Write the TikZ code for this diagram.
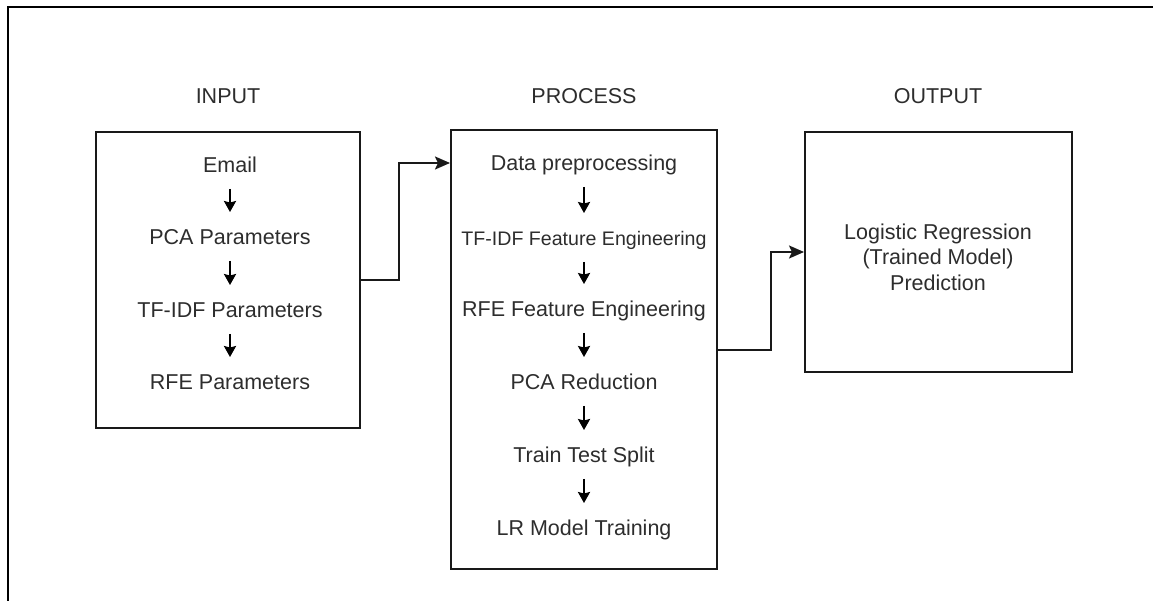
\documentclass[tikz,border=0pt]{standalone}
\usepackage{fontspec}
\setmainfont{Liberation Sans}
\usetikzlibrary{arrows.meta,calc}
\definecolor{txt}{RGB}{45,45,45}
\definecolor{ln}{RGB}{25,25,25}
\begin{document}
\begin{tikzpicture}[x=1pt,y=-1pt,
  box/.style={draw=ln,line width=2pt,inner sep=0pt},
  lbl/.style={text=txt,font=\fontsize{21.5}{25}\selectfont,inner sep=0pt,text height=15.5pt,text depth=0pt,align=center},
  smalllbl/.style={lbl,font=\fontsize{19.6}{23}\selectfont},
  stepdown/.style={draw=black,line width=2.4pt,-{Stealth[length=11pt,width=12pt,inset=1.5pt]},shorten <=16pt,shorten >=17pt},
  conn/.style={draw=ln,line width=2pt,-{Stealth[length=15pt,width=13pt,inset=3pt]}}]
\useasboundingbox (0,0) rectangle (1153,601);
% outer frame
\draw[line width=2.6pt,black] (8,601) -- (8,7) -- (1153,7);
% headers
\node[lbl] (hin) at (228,96) {INPUT};
\node[lbl] (hproc) at (584,96) {PROCESS};
\node[lbl] (hout) at (938,96) {OUTPUT};
% boxes
\node[box,minimum width=264pt,minimum height=296pt] (inp) at (228,280) {};
\node[box,minimum width=266pt,minimum height=439pt] (proc) at (584,349.5) {};
\node[box,minimum width=267pt,minimum height=240pt] (out) at (938.5,252) {};
% input items
\node[lbl] (email) at (230,165) {Email};
\node[lbl] (pcap) at (230,237) {PCA Parameters};
\node[lbl] (tfp) at (230,310) {TF-IDF Parameters};
\node[lbl] (rfep) at (230,382) {RFE Parameters};
\draw[stepdown] (email) -- (pcap);
\draw[stepdown] (pcap) -- (tfp);
\draw[stepdown] (tfp) -- (rfep);
% process items
\node[lbl] (dp) at (584,163) {Data preprocessing};
\node[smalllbl] (tffe) at (584,238) {TF-IDF Feature Engineering};
\node[lbl] (rfefe) at (584,309) {RFE Feature Engineering};
\node[lbl] (pcar) at (584,382) {PCA Reduction};
\node[lbl] (tts) at (584,455) {Train Test Split};
\node[lbl] (lrt) at (584,528) {LR Model Training};
\draw[stepdown] (dp) -- (tffe);
\draw[stepdown] (tffe) -- (rfefe);
\draw[stepdown] (rfefe) -- (pcar);
\draw[stepdown] (pcar) -- (tts);
\draw[stepdown] (tts) -- (lrt);
% output text
\node[text=txt,font=\fontsize{21.5}{25.5}\selectfont,align=center,inner sep=0pt] (res) at (938,257) {Logistic Regression\\(Trained Model)\\Prediction};
% connectors
\draw[conn] (inp.east) -- ++(38,0) |- ([yshift=-34pt]proc.north west);
\draw[conn] (proc.east) -- ++(53,0) |- (out.west);
\end{tikzpicture}
\end{document}
